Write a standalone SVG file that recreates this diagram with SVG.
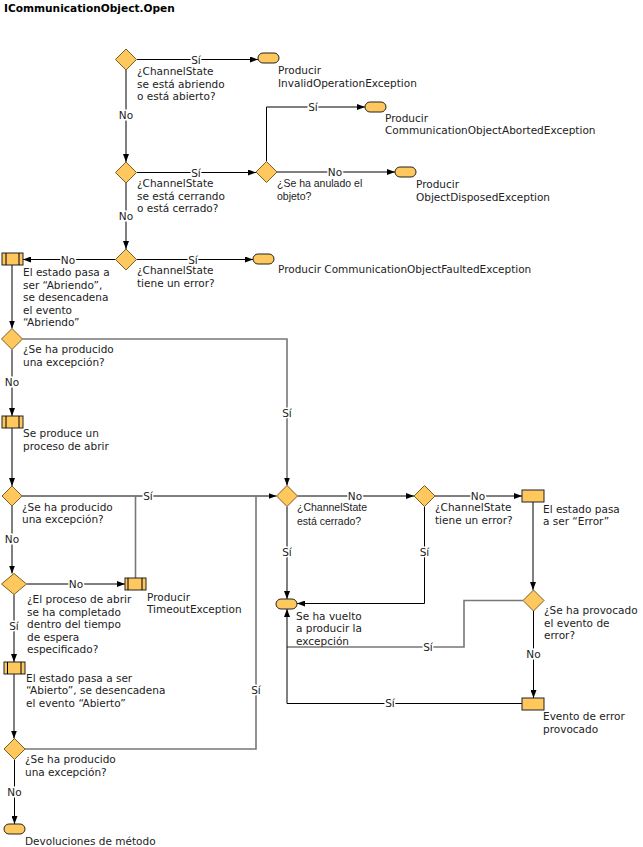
<svg xmlns="http://www.w3.org/2000/svg" width="643" height="847" viewBox="0 0 643 847">
<style>
text{font-family:"DejaVu Sans",Verdana,sans-serif;font-size:10.5px;fill:#222}
.title{font-weight:bold;font-size:10.6px;fill:#000}
.sm{font-family:"Liberation Sans",Arial,sans-serif;font-size:10.5px}
.lbl{text-anchor:middle;stroke:#fff;stroke-width:3;paint-order:stroke fill}
.dia{fill:#FFC85F;stroke:#7a5f22;stroke-width:1}
.box{fill:#FFC85F;stroke:#222;stroke-width:1}
.ln{fill:none;stroke:#000;stroke-width:1}
.gr{fill:none;stroke:#777;stroke-width:1.6}
</style>
<defs>
<marker id="ah" markerUnits="userSpaceOnUse" markerWidth="8" markerHeight="6" refX="8" refY="3" orient="auto"><path d="M0,0 L8,3 L0,6 Z" fill="#000"/></marker>
</defs>
<text class="title" x="4" y="12">ICommunicationObject.Open</text>

<g id="connectors">
<path class="ln" d="M137,59.5 H258" marker-end="url(#ah)"/>
<path class="ln" d="M126,70 V162" marker-end="url(#ah)"/>
<path class="ln" d="M137,172.5 H256" marker-end="url(#ah)"/>
<path class="ln" d="M266.5,161.5 V107 H365" marker-end="url(#ah)"/>
<path class="ln" d="M277,172 H395" marker-end="url(#ah)"/>
<path class="ln" d="M126,183 V249" marker-end="url(#ah)"/>
<path class="ln" d="M115.5,259.5 H23" marker-end="url(#ah)"/>
<path class="ln" d="M136.5,259.5 H253" marker-end="url(#ah)"/>
<path class="ln" d="M12,265 V328.5" marker-end="url(#ah)"/>
<path class="gr" d="M22.5,339 H287 V480"/>
<path class="ln" d="M287,479 V485.5" marker-end="url(#ah)"/>
<path class="ln" d="M12,349.5 V416" marker-end="url(#ah)"/>
<path class="ln" d="M12,428 V486" marker-end="url(#ah)"/>
<path class="ln" d="M22,496 H276.5" marker-end="url(#ah)"/>
<path class="gr" d="M135.5,578 V496"/>
<path class="ln" d="M12,506 V573.5" marker-end="url(#ah)"/>
<path class="ln" d="M26.5,584 H125" marker-end="url(#ah)"/>
<path class="ln" d="M14,594.5 V662" marker-end="url(#ah)"/>
<path class="ln" d="M14,674 V738.5" marker-end="url(#ah)"/>
<path class="gr" d="M25,749 H256 V496"/>
<path class="ln" d="M14.5,759.5 V824" marker-end="url(#ah)"/>
<path class="ln" d="M297.5,496 H414" marker-end="url(#ah)"/>
<path class="ln" d="M435,496 H522" marker-end="url(#ah)"/>
<path class="ln" d="M533,502 V590" marker-end="url(#ah)"/>
<path class="ln" d="M287,506.5 V599" marker-end="url(#ah)"/>
<path class="ln" d="M424.5,506.5 V603.5 H297" marker-end="url(#ah)"/>
<path class="gr" d="M523,600.5 H464 V647 H287"/>
<path class="ln" d="M522,703.5 H287 V609" marker-end="url(#ah)"/>
<path class="ln" d="M533.5,611 V698" marker-end="url(#ah)"/>
<text class="lbl" x="196" y="63.5">Sí</text>
<text class="lbl" x="126" y="119">No</text>
<text class="lbl" x="196" y="176.5">Sí</text>
<text class="lbl" x="313" y="111">Sí</text>
<text class="lbl" x="335" y="176">No</text>
<text class="lbl" x="126" y="220">No</text>
<text class="lbl" x="68" y="263.5">No</text>
<text class="lbl" x="193" y="263.5">Sí</text>
<text class="lbl" x="287" y="417">Sí</text>
<text class="lbl" x="12" y="386">No</text>
<text class="lbl" x="148" y="500">Sí</text>
<text class="lbl" x="12" y="543">No</text>
<text class="lbl" x="76" y="588">No</text>
<text class="lbl" x="14" y="630">Sí</text>
<text class="lbl" x="256" y="694">Sí</text>
<text class="lbl" x="14.5" y="796">No</text>
<text class="lbl" x="355" y="499.5">No</text>
<text class="lbl" x="478" y="499.5">No</text>
<text class="lbl" x="287" y="556">Sí</text>
<text class="lbl" x="424.5" y="556">Sí</text>
<text class="lbl" x="428" y="651">Sí</text>
<text class="lbl" x="390" y="707">Sí</text>
<text class="lbl" x="533.5" y="658">No</text>
</g>

<g id="d1"><path class="dia" d="M126,49 L136.5,59.5 L126,70 L115.5,59.5 Z"/>
<text x="137" y="75">¿ChannelState</text><text x="137" y="87.5">se está abriendo</text><text x="137" y="100">o está abierto?</text></g>
<g id="t1"><rect class="box" x="258" y="53" width="21" height="10" rx="5"/>
<text x="278" y="74">Producir</text><text x="278" y="86.5">InvalidOperationException</text></g>
<g id="d2"><path class="dia" d="M126,162 L136.5,172.5 L126,183 L115.5,172.5 Z"/>
<text x="137" y="187">¿ChannelState</text><text x="137" y="199.5">se está cerrando</text><text x="137" y="212">o está cerrado?</text></g>
<g id="d3"><path class="dia" d="M266.5,161.5 L277,172 L266.5,182.5 L256,172 Z"/>
<text class="sm" x="277" y="187">¿Se ha anulado el</text><text class="sm" x="277" y="200">objeto?</text></g>
<g id="t2"><rect class="box" x="365" y="102" width="21" height="10" rx="5"/>
<text x="385" y="121.5">Producir</text><text x="385" y="134">CommunicationObjectAbortedException</text></g>
<g id="t3"><rect class="box" x="395" y="167" width="21" height="10" rx="5"/>
<text x="416" y="188">Producir</text><text x="416" y="200.5">ObjectDisposedException</text></g>
<g id="d4"><path class="dia" d="M126,249 L136.5,259.5 L126,270 L115.5,259.5 Z"/>
<text x="137" y="274">¿ChannelState</text><text x="137" y="286.5">tiene un error?</text></g>
<g id="t4"><rect class="box" x="253" y="254" width="21" height="10" rx="5"/>
<text x="278" y="272.5">Producir CommunicationObjectFaultedException</text></g>
<g id="p1"><rect class="box" x="2" y="253" width="21" height="12"/><path class="ln" d="M6,253 V265 M19,253 V265"/>
<text x="23" y="276">El estado pasa a</text><text x="23" y="288.5">ser “Abriendo”,</text><text x="23" y="301">se desencadena</text><text x="23" y="313.5">el evento</text><text x="23" y="326">“Abriendo”</text></g>
<g id="d5"><path class="dia" d="M12,328.5 L22.5,339 L12,349.5 L1.5,339 Z"/>
<text x="23" y="353">¿Se ha producido</text><text x="23" y="365.5">una excepción?</text></g>
<g id="p2"><rect class="box" x="2" y="416" width="21" height="12"/><path class="ln" d="M6,416 V428 M19,416 V428"/>
<text x="23" y="437">Se produce un</text><text x="23" y="449.5">proceso de abrir</text></g>
<g id="d6"><path class="dia" d="M12,486 L22,496 L12,506 L2,496 Z"/>
<text x="22" y="510.5">¿Se ha producido</text><text x="22" y="523">una excepción?</text></g>
<g id="d8"><path class="dia" d="M14,573.5 L26.5,584 L14,594.5 L1.5,584 Z"/>
<text x="27" y="603">¿El proceso de abrir</text><text x="27" y="615.5">se ha completado</text><text x="27" y="628">dentro del tiempo</text><text x="27" y="640.5">de espera</text><text x="27" y="653">especificado?</text></g>
<g id="p3"><rect class="box" x="125" y="578" width="21" height="12"/><path class="ln" d="M128,578 V590 M142,578 V590"/>
<text x="147" y="600.5">Producir</text><text x="147" y="613">TimeoutException</text></g>
<g id="p4"><rect class="box" x="4" y="662" width="21" height="12"/><path class="ln" d="M7.5,662 V674 M21,662 V674"/>
<text x="26" y="681.5">El estado pasa a ser</text><text x="26" y="694">“Abierto”, se desencadena</text><text x="26" y="706.5">el evento “Abierto”</text></g>
<g id="d9"><path class="dia" d="M14.5,738.5 L25,749 L14.5,759.5 L4,749 Z"/>
<text x="25" y="763">¿Se ha producido</text><text x="25" y="775.5">una excepción?</text></g>
<g id="t6"><rect class="box" x="4" y="824" width="21" height="10" rx="5"/>
<text x="25" y="845">Devoluciones de método</text></g>
<g id="d7"><path class="dia" d="M287,485.5 L297.5,496 L287,506.5 L276.5,496 Z"/>
<text class="sm" x="297" y="511">¿ChannelState</text><text class="sm" x="297" y="524.5">está cerrado?</text></g>
<g id="d10"><path class="dia" d="M424.5,485.5 L435,496 L424.5,506.5 L414,496 Z"/>
<text x="435" y="511">¿ChannelState</text><text x="435" y="523.5">tiene un error?</text></g>
<g id="r1"><rect class="box" x="522" y="490" width="22" height="12"/>
<text x="543" y="512.5">El estado pasa</text><text x="543" y="525">a ser “Error”</text></g>
<g id="d11"><path class="dia" d="M533.5,590 L544,600.5 L533.5,611 L523,600.5 Z"/>
<text x="544" y="614">¿Se ha provocado</text><text x="544" y="626.5">el evento de</text><text x="544" y="639">error?</text></g>
<g id="t5"><rect class="box" x="276" y="599" width="21" height="10" rx="5"/>
<text x="296" y="619.5">Se ha vuelto</text><text x="296" y="632">a producir la</text><text x="296" y="644.5">excepción</text></g>
<g id="r2"><rect class="box" x="522" y="698" width="22" height="12"/>
<text x="543" y="720">Evento de error</text><text x="543" y="732.5">provocado</text></g>
</svg>
